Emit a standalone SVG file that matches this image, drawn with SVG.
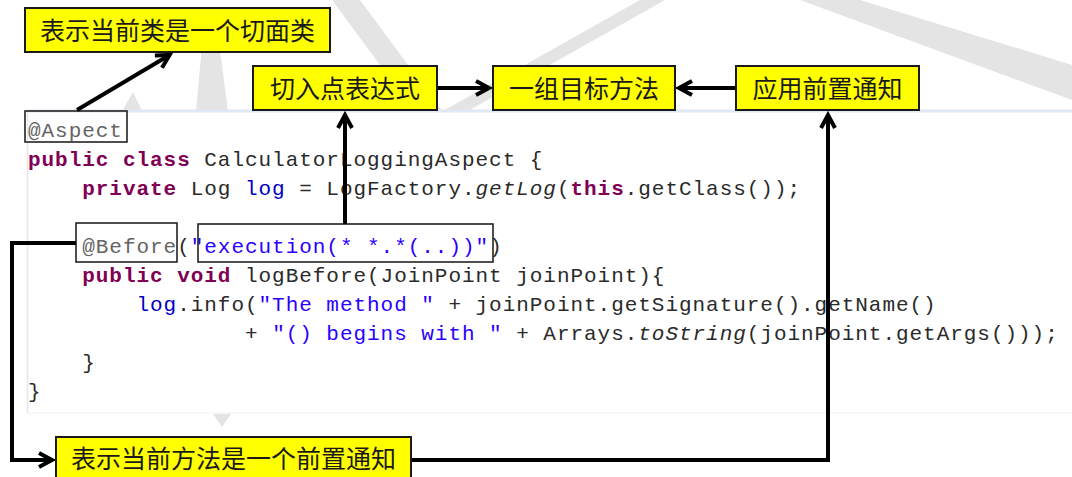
<svg xmlns="http://www.w3.org/2000/svg" width="1072" height="477" viewBox="0 0 1072 477">
<defs>
<style>
.wm{fill:#e4e4e4}
.box{fill:#ffff00;stroke:#1a1a1a;stroke-width:2}
.lbl{font-family:"Noto Sans CJK SC","Noto Sans",sans-serif;font-size:25px;fill:#1a1a1a;text-anchor:middle}
.code{font-family:"Courier New","Liberation Mono",monospace;font-size:21px;letter-spacing:0.96px;fill:#2a2a2a;white-space:pre}
.kw{fill:#7f0055;font-weight:bold}
.str{fill:#2a00ff}
.fld{fill:#0000c0}
.ann{fill:#646464}
.it{font-style:italic}
.hl{fill:none;stroke:#222;stroke-width:1.6}
.conn{fill:none;stroke:#000;stroke-width:4}
</style>
<marker id="arr" markerUnits="userSpaceOnUse" markerWidth="24" markerHeight="24" viewBox="-16 -12 24 24" refX="0" refY="0" orient="auto">
<path d="M-13,-7 L0,0 L-13,7" fill="none" stroke="#000" stroke-width="4"/>
</marker>
</defs>
<rect width="1072" height="477" fill="#ffffff"/>
<g id="watermark">
<polygon class="wm" points="203,35 218,35 228,111 196,111"/>
<polygon class="wm" points="133,92 142,111 122,111"/>
<polygon class="wm" points="332,0 360,0 442,111 414,111"/>
<polygon class="wm" points="640,0 665,0 468,111 443,111"/>
<polygon class="wm" points="800,0 860,0 1072,65 1072,100"/>
<polygon class="wm" points="213,414 231,414 222,427"/>
</g>
<g id="code-area">
<rect x="27" y="111" width="1045" height="302" fill="#ffffff"/>
<line x1="27" y1="111" x2="1072" y2="111" stroke="#dfe8f4" stroke-width="3"/>
<line x1="27.5" y1="111" x2="27.5" y2="413" stroke="#e6e6e6" stroke-width="1.5"/>
<line x1="27" y1="413" x2="1072" y2="413" stroke="#f1f1f1" stroke-width="1"/>
<text class="code" x="28" y="137"><tspan class="ann">@Aspect</tspan></text>
<text class="code" x="28" y="166"><tspan class="kw">public</tspan> <tspan class="kw">class</tspan> CalculatorLoggingAspect {</text>
<text class="code" x="28" y="195">    <tspan class="kw">private</tspan> Log <tspan class="fld">log</tspan> = LogFactory.<tspan class="it">getLog</tspan>(<tspan class="kw">this</tspan>.getClass());</text>
<text class="code" x="28" y="253">    <tspan class="ann">@Before</tspan>(<tspan class="str">"execution(* *.*(..))"</tspan>)</text>
<text class="code" x="28" y="282">    <tspan class="kw">public</tspan> <tspan class="kw">void</tspan> logBefore(JoinPoint joinPoint){</text>
<text class="code" x="28" y="311">        <tspan class="fld">log</tspan>.info(<tspan class="str">"The method "</tspan> + joinPoint.getSignature().getName()</text>
<text class="code" x="28" y="340">                + <tspan class="str">"() begins with "</tspan> + Arrays.<tspan class="it">toString</tspan>(joinPoint.getArgs()));</text>
<text class="code" x="28" y="369">    }</text>
<text class="code" x="28" y="398">}</text>
<rect class="hl" x="25" y="111" width="102" height="31"/>
<rect class="hl" x="76" y="223" width="101" height="39"/>
<rect class="hl" x="198" y="224" width="295" height="38"/>
</g>
<g id="connectors">
<line class="conn" x1="77" y1="110" x2="169.6" y2="55" marker-end="url(#arr)"/>
<line class="conn" x1="437" y1="88" x2="489" y2="88" marker-end="url(#arr)"/>
<line class="conn" x1="736" y1="88" x2="679" y2="88" marker-end="url(#arr)"/>
<line class="conn" x1="345" y1="224" x2="345" y2="115" marker-end="url(#arr)"/>
<polyline class="conn" points="76,243 12,243 12,460 52,460" marker-end="url(#arr)"/>
<polyline class="conn" points="411,460 828,460 828,115" marker-end="url(#arr)"/>
</g>
<g id="node-aspect-note">
<rect class="box" x="25" y="8" width="305" height="44"/>
<text class="lbl" x="177.5" y="39.5">表示当前类是一个切面类</text>
</g>
<g id="node-pointcut">
<rect class="box" x="253" y="66" width="184" height="44"/>
<text class="lbl" x="345" y="97.5">切入点表达式</text>
</g>
<g id="node-targets">
<rect class="box" x="493" y="66" width="182" height="44"/>
<text class="lbl" x="584" y="97.5">一组目标方法</text>
</g>
<g id="node-apply">
<rect class="box" x="736" y="66" width="183" height="44"/>
<text class="lbl" x="827.5" y="97.5">应用前置通知</text>
</g>
<g id="node-before-note">
<rect class="box" x="56" y="437" width="355" height="46"/>
<text class="lbl" x="233.5" y="467.5">表示当前方法是一个前置通知</text>
</g>
</svg>
